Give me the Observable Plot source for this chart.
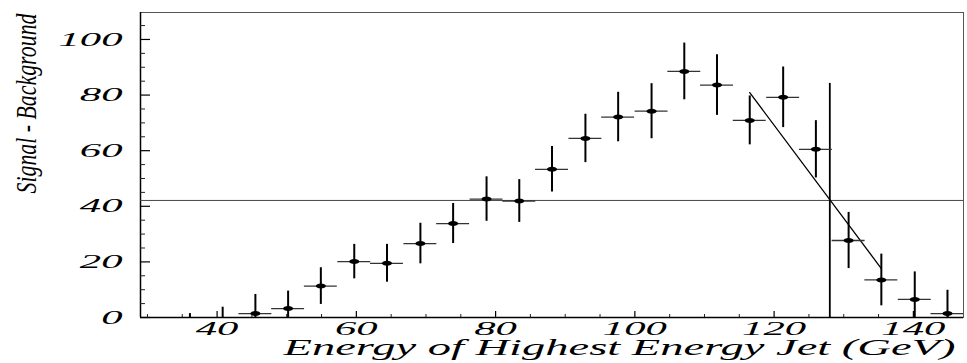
<!DOCTYPE html>
<html>
<head>
<meta charset="utf-8">
<script src="https://cdn.jsdelivr.net/npm/d3@7"></script>
<script src="https://cdn.jsdelivr.net/npm/@observablehq/plot@0.6"></script>
<style>
  html, body { margin: 0; padding: 0; background: #fff; }
</style>
</head>
<body>
<div id="chart"></div>
<script>
// Signal minus background, binned in leading-jet energy (GeV)
const binCenters = [36.1, 40.8, 45.5, 50.2, 54.9, 59.7, 64.4, 69.2, 73.9, 78.7, 83.4, 88.1,
                    92.9, 97.6, 102.4, 107.1, 111.8, 116.5, 121.3, 126.0, 130.7, 135.4, 140.2, 144.9];
const signal =     [-2.0, -1.0, 1.4, 3.2, 11.3, 20.1, 19.5, 26.6, 33.8, 42.6, 41.9, 53.3,
                    64.4, 72.1, 74.2, 88.5, 83.6, 70.9, 79.2, 60.5, 27.7, 13.5, 6.5, 1.4];
const errors =     [3.4, 4.7, 6.9, 6.3, 6.6, 6.2, 6.8, 7.3, 7.2, 8.0, 7.7, 8.2,
                    8.7, 8.9, 9.9, 10.2, 10.9, 8.8, 10.9, 10.3, 10.1, 9.3, 9.9, 8.4];
const binWidth = 4.73;

// Axis ticks
const xTicks = [40, 60, 80, 100, 120, 140];
const xMinorTicks = [30, 35, 45, 50, 55, 65, 70, 75, 85, 90, 95, 105, 110, 115, 125, 130, 135, 145];
const yTicks = [0, 20, 40, 60, 80, 100];
const yMinorTicks = [5, 10, 15, 25, 30, 35, 45, 50, 55, 65, 70, 75, 85, 90, 95, 105];

// Half-maximum level, end-point energy and the falling-edge fit
const halfMax = 42.1;
const endPoint = 128.0;
const endPointTop = 84.2;
const edgeX = [116.5, 135.4];
const edgeY = [80.9, 17.6];

const xTitle = "Energy of Highest Energy Jet (GeV)";
const yTitle = "Signal - Background";

const points = binCenters.map((x, i) => ({x, y: signal[i], e: errors[i]}));
const edge = edgeX.map((x, i) => ({x, y: edgeY[i]}));

const width = 967, height = 363;
const margin = {left: 140, right: 4, top: 12, bottom: 46};
const frameW = width - margin.left - margin.right;
const frameH = height - margin.top - margin.bottom;

// flat elliptical marker
const ellipse = {
  draw(ctx) {
    const rx = 5, ry = 2.5, k = 0.5523;
    ctx.moveTo(rx, 0);
    ctx.bezierCurveTo(rx, ry * k, rx * k, ry, 0, ry);
    ctx.bezierCurveTo(-rx * k, ry, -rx, ry * k, -rx, 0);
    ctx.bezierCurveTo(-rx, -ry * k, -rx * k, -ry, 0, -ry);
    ctx.bezierCurveTo(rx * k, -ry, rx, -ry * k, rx, 0);
    ctx.closePath();
  }
};

const chart = Plot.plot({
  width, height,
  marginLeft: margin.left, marginRight: margin.right,
  marginTop: margin.top, marginBottom: margin.bottom,
  style: {fontFamily: "'Liberation Serif', 'Times New Roman', serif", fontStyle: "italic", fontSize: "19px", color: "#000", background: "#fff"},
  x: {domain: [29, 147.2]},
  y: {domain: [0, 109.7]},
  marks: [
    Plot.frame({stroke: "#555", strokeWidth: 1}),
    Plot.ruleX([29], {stroke: "#000", strokeWidth: 1.5}),
    Plot.ruleY([0], {stroke: "#000", strokeWidth: 1.5}),
    // inward ticks
    Plot.tickY(yMinorTicks, {y: d => d, insetRight: frameW - 5, stroke: "#222", strokeWidth: 1}),
    Plot.tickY(yTicks, {y: d => d, insetRight: frameW - 10, stroke: "#000", strokeWidth: 1.2}),
    Plot.tickX(xMinorTicks, {x: d => d, insetTop: frameH - 3, stroke: "#222", strokeWidth: 1}),
    Plot.tickX(xTicks, {x: d => d, insetTop: frameH - 6, stroke: "#000", strokeWidth: 1.2}),
    Plot.axisX(xTicks, {tickSize: 0, tickPadding: 4, label: null, tickFormat: d => String(d)}),
    Plot.axisY(yTicks, {tickSize: 0, tickPadding: 18, label: null, tickFormat: d => String(d)}),
    // reference lines
    Plot.ruleY([halfMax], {stroke: "#444", strokeWidth: 1}),
    Plot.ruleX([endPoint], {y1: 0, y2: endPointTop, stroke: "#000", strokeWidth: 1.8}),
    Plot.line(edge, {x: "x", y: "y", stroke: "#000", strokeWidth: 1.3}),
    // data with bin widths and errors
    Plot.ruleY(points, {y: "y", x1: d => d.x - binWidth / 2, x2: d => d.x + binWidth / 2, stroke: "#333", strokeWidth: 1.3, clip: true}),
    Plot.ruleX(points, {x: "x", y1: d => d.y - d.e, y2: d => d.y + d.e, stroke: "#000", strokeWidth: 2, clip: true}),
    Plot.dot(points, {x: "x", y: "y", symbol: ellipse, fill: "#000", stroke: "none", clip: true}),
    // titles
    Plot.text([xTitle], {frameAnchor: "bottom-right", textAnchor: "end", lineAnchor: "bottom", dx: -8, dy: 37, fontSize: 24, fill: "#000"}),
    Plot.text([yTitle], {frameAnchor: "left", rotate: -90, textAnchor: "start", lineAnchor: "bottom", dx: -105, dy: 28.5, fontSize: 30, fill: "#000"})
  ]
});

document.getElementById("chart").appendChild(chart);

// wide PAW-style numerals
const svg = d3.select(chart);
svg.selectAll('g[aria-label="x-axis tick label"] text, g[aria-label="y-axis tick label"] text')
  .attr("transform", function () { return (this.getAttribute("transform") || "") + " scale(2.25,1)"; });

const titles = svg.selectAll('g[aria-label="text"] text').nodes();
d3.select(titles[0]).attr("textLength", 672).attr("lengthAdjust", "spacingAndGlyphs");
d3.select(titles[1]).attr("textLength", 180).attr("lengthAdjust", "spacingAndGlyphs");
</script>
</body>
</html>
